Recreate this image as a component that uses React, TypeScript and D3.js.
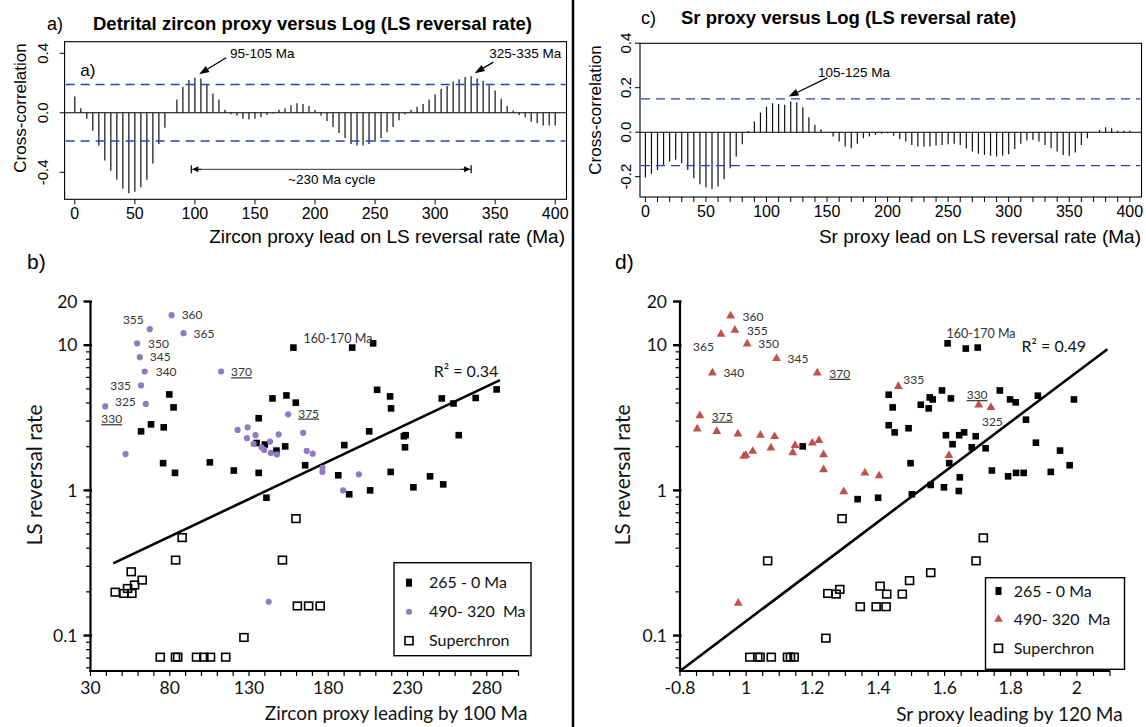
import React, { useRef, useEffect } from 'react';
import * as d3 from 'd3';

const W = 1146;
const H = 727;

// ---------- cross-correlation panels (a, c) ----------
const lags = [0, 5, 10, 15, 20, 25, 30, 35, 40, 45, 50, 55, 60, 65, 70, 75, 80, 85, 90, 95,
  100, 105, 110, 115, 120, 125, 130, 135, 140, 145, 150, 155, 160, 165, 170, 175, 180, 185, 190, 195,
  200, 205, 210, 215, 220, 225, 230, 235, 240, 245, 250, 255, 260, 265, 270, 275, 280, 285, 290, 295,
  300, 305, 310, 315, 320, 325, 330, 335, 340, 345, 350, 355, 360, 365, 370, 375, 380, 385, 390, 395, 400];

const zirconCcf = [0.11, 0.03, -0.04, -0.12, -0.22, -0.32, -0.39, -0.45, -0.51, -0.54, -0.53, -0.5, -0.45, -0.34, -0.21, -0.1,
  0.0, 0.09, 0.175, 0.22, 0.235, 0.23, 0.19, 0.13, 0.09, 0.02, -0.01, -0.02, -0.04, -0.045, -0.04, -0.03, -0.015, -0.005,
  0.02, 0.03, 0.05, 0.065, 0.06, 0.045, 0.02, -0.02, -0.055, -0.095, -0.135, -0.17, -0.21, -0.22, -0.22, -0.21, -0.195,
  -0.17, -0.13, -0.095, -0.05, -0.01, 0.02, 0.04, 0.06, 0.09, 0.125, 0.16, 0.18, 0.21, 0.225, 0.24, 0.245, 0.23, 0.215,
  0.185, 0.15, 0.095, 0.045, 0.015, -0.015, -0.03, -0.06, -0.07, -0.085, -0.085, -0.085];

const srCcf = [-0.204, -0.187, -0.17, -0.147, -0.132, -0.124, -0.139, -0.17, -0.207, -0.234, -0.249, -0.255, -0.244, -0.211,
  -0.162, -0.109, -0.054, 0.005, 0.048, 0.088, 0.115, 0.13, 0.127, 0.123, 0.138, 0.135, 0.112, 0.067, 0.033, 0.013, 0.0,
  -0.019, -0.042, -0.064, -0.072, -0.052, -0.027, -0.019, -0.012, -0.007, -0.005, -0.016, -0.031, -0.042, -0.057, -0.064,
  -0.064, -0.064, -0.06, -0.057, -0.054, -0.052, -0.057, -0.072, -0.087, -0.097, -0.102, -0.106, -0.109, -0.106, -0.099,
  -0.076, -0.052, -0.037, -0.034, -0.042, -0.057, -0.072, -0.087, -0.102, -0.106, -0.091, -0.057, -0.027, 0.0, 0.01, 0.022,
  0.018, 0.007, 0.006, 0.007];

const zirconBand = 0.19;
const srBand = 0.15;
const lagTicks = [0, 50, 100, 150, 200, 250, 300, 350, 400];
const zirconYTicks = [-0.4, 0, 0.4];
const zirconYLabels = ['-0.4', '0.0', '0.4'];
const srYTicks = [-0.2, 0, 0.2, 0.4];
const srYLabels = ['-0.2', '0.0', '0.2', '0.4'];

// ---------- scatter panels (b, d) ----------
const recentZirconX = [79.7, 82.4, 68.2, 61.9, 76.2, 75.8, 83.3, 105.3, 120.4, 136.1, 136.1, 144.8, 153.6, 159.5, 158,
  134.8, 140, 147.3, 152.8, 141, 195.1, 208.3, 210.8, 219, 219.6, 251.6, 259, 273, 286.2, 165.4, 190.1, 205.8, 227.7,
  228.8, 228.4, 262.3, 186.3, 219.4, 244.2, 252.5, 233.7, 206.4, 193.2];
const recentZirconY = [4.58, 3.73, 2.85, 2.55, 2.72, 1.54, 1.32, 1.56, 1.37, 1.32, 3.14, 4.3, 4.51, 4.02, 9.63,
  2.12, 2.07, 1.88, 2.01, 0.89, 9.63, 10.3, 4.93, 4.44, 3.67, 4.3, 3.97, 4.33, 4.96, 1.49, 2.05, 2.55, 2.36,
  2.4, 1.98, 2.4, 1.27, 1.34, 1.25, 1.1, 1.05, 1.0, 0.94];

const oldZirconX = [39.3, 64.9, 61.9, 64.2, 61.1, 59.4, 67.4, 81.2, 88.7, 112.4, 52.1, 122.8, 129.1, 128.7, 134.1,
  132.9, 137.9, 139.6, 143.2, 143.8, 147.6, 148.7, 154.7, 164.1, 166.4, 170.2, 176.3, 176.3, 199.3, 189.4, 142.4];
const oldZirconY = [3.79, 3.94, 5.28, 6.59, 8.27, 10.3, 12.9, 16.1, 12.1, 6.59, 1.78, 2.61, 2.72, 2.29, 2.4,
  2.09, 1.98, 1.9, 2.17, 1.81, 1.77, 2.43, 3.34, 2.49, 1.87, 1.79, 1.43, 1.34, 1.29, 1.0, 0.171];

const superZirconX = [45.6, 51.1, 53.4, 56.1, 55.7, 57.8, 62.6, 83.7, 87.8, 151.1, 159.6, 160.5, 167.6, 174.9, 126.8,
  74.0, 83.6, 85.0, 96.9, 101.5, 105.7, 115.3];
const superZirconY = [0.199, 0.195, 0.211, 0.195, 0.275, 0.223, 0.241, 0.331, 0.473, 0.331, 0.639, 0.16, 0.16, 0.16, 0.097,
  0.071, 0.071, 0.071, 0.071, 0.071, 0.071, 0.071];

const recentSrX = [1.171, 1.337, 1.609, 1.664, 1.7, 1.431, 1.443, 1.431, 1.449, 1.491, 1.528, 1.555, 1.564, 1.552, 1.592,
  1.619, 1.604, 1.644, 1.659, 1.694, 1.624, 1.682, 1.724, 1.614, 1.497, 1.646, 1.643, 1.598, 1.558, 1.501, 1.399,
  1.743, 1.792, 1.816, 1.839, 1.921, 1.978, 1.949, 1.876, 1.846, 1.767, 1.798, 1.815, 1.882, 1.991];
const recentSrY = [2.01, 0.87, 10.3, 9.48, 9.63, 4.56, 3.73, 2.81, 2.51, 2.68, 3.89, 4.37, 4.23, 3.67, 4.88,
  4.3, 2.4, 2.4, 2.51, 2.36, 2.08, 1.98, 1.95, 1.54, 1.54, 1.23, 0.99, 1.05, 1.09, 0.94, 0.89,
  1.37, 1.25, 1.32, 1.32, 1.34, 1.49, 1.88, 2.13, 3.07, 4.88, 4.23, 4.04, 4.49, 4.23];

const oldSrX = [0.953, 0.966, 0.924, 1.003, 1.092, 0.898, 1.215, 0.86, 0.852, 0.911, 0.975, 1.043, 1.086, 1.075, 1.02,
  0.999, 0.993, 1.148, 1.141, 1.2, 1.22, 1.234, 1.234, 1.295, 1.359, 1.46, 1.703, 1.74, 1.613, 1.402, 0.976];
const oldSrY = [15.9, 12.7, 11.9, 10.2, 8.09, 6.45, 6.45, 3.27, 2.65, 2.55, 2.45, 2.4, 2.35, 1.96, 1.86,
  1.75, 1.72, 2.04, 1.82, 2.12, 2.21, 1.76, 1.39, 0.98, 1.32, 5.2, 3.88, 3.73, 1.74, 1.26, 0.167];

const superSrX = [1.29, 1.065, 1.717, 1.695, 1.558, 1.494, 1.405, 1.425, 1.472, 1.345, 1.393, 1.423, 1.247, 1.272, 1.283,
  1.241, 1.011, 1.035, 1.042, 1.076, 1.125, 1.134, 1.145];
const superSrY = [0.639, 0.327, 0.471, 0.327, 0.271, 0.239, 0.219, 0.193, 0.193, 0.158, 0.158, 0.158, 0.195, 0.193, 0.208,
  0.096, 0.071, 0.071, 0.071, 0.071, 0.071, 0.071, 0.071];

// regression lines (end points)
const zirconTrendX = [44.3, 288.3];
const zirconTrendY = [0.314, 5.75];
const srTrendX = [0.8, 2.092];
const srTrendY = [0.057, 9.39];

// ages written next to the 490-320 Ma points (index into the series)
const zirconAgeLabels = [
  { i: 0, text: '330', dx: -4, dy: 12.6, anchor: 'start', u: true },
  { i: 1, text: '325', dx: -10, dy: -2, anchor: 'end' },
  { i: 2, text: '335', dx: -10, dy: 0, anchor: 'end' },
  { i: 3, text: '340', dx: 11, dy: 0.6, anchor: 'start' },
  { i: 4, text: '345', dx: 10, dy: 0, anchor: 'start' },
  { i: 5, text: '350', dx: 11, dy: 0, anchor: 'start' },
  { i: 6, text: '355', dx: -6, dy: -9, anchor: 'end' },
  { i: 7, text: '360', dx: 10, dy: 0, anchor: 'start' },
  { i: 8, text: '365', dx: 10, dy: 1, anchor: 'start' },
  { i: 9, text: '370', dx: 10, dy: 0.6, anchor: 'start', u: true },
  { i: 22, text: '375', dx: 10, dy: -1, anchor: 'start', u: true },
];
const srAgeLabels = [
  { i: 0, text: '360', dx: 12, dy: 0.7, anchor: 'start' },
  { i: 1, text: '355', dx: 12, dy: 0.7, anchor: 'start' },
  { i: 2, text: '365', dx: -7, dy: 12.4, anchor: 'end' },
  { i: 3, text: '350', dx: 11, dy: 0, anchor: 'start' },
  { i: 4, text: '345', dx: 11, dy: 0, anchor: 'start' },
  { i: 5, text: '340', dx: 11, dy: 0, anchor: 'start' },
  { i: 6, text: '370', dx: 12, dy: 0.7, anchor: 'start', u: true },
  { i: 7, text: '375', dx: 12, dy: 0.7, anchor: 'start', u: true },
  { i: 25, text: '335', dx: 5, dy: -7, anchor: 'start' },
  { i: 26, text: '330', dx: -12, dy: -10, anchor: 'start', u: true },
  { i: 27, text: '325', dx: -9, dy: 14, anchor: 'start' },
];

const legendLabels = ['265 - 0 Ma', '490- 320  Ma', 'Superchron'];
const yMajor = [0.1, 1, 10, 20];
const yMajorLabels = ['0.1', '1', '10', '20'];
const yMinor = [0.06, 0.07, 0.08, 0.09, 0.2, 0.3, 0.4, 0.5, 0.6, 0.7, 0.8, 0.9, 2, 3, 4, 5, 6, 7, 8, 9];
const zirconXLabels = [30, 80, 130, 180, 230, 280];
const srXTickValues = [0.8, 1.0, 1.2, 1.4, 1.6, 1.8, 2.0];
const srXLabels = ['-0.8', '1', '1.2', '1.4', '1.6', '1.8', '2'];

const arial = '"Liberation Sans", Arial, sans-serif';
const calibri = 'Lato, "Open Sans", sans-serif';
const purple = '#8f7bc4';
const red = '#c0504d';
const blue = '#2a3fc2';

function arrow(g: any, tail: number[], tip: number[], head = 10, width = 7, sw = 1.3) {
  const a = Math.atan2(tip[1] - tail[1], tip[0] - tail[0]);
  const bx = tip[0] - head * Math.cos(a);
  const by = tip[1] - head * Math.sin(a);
  g.append('line').attr('x1', tail[0]).attr('y1', tail[1]).attr('x2', bx).attr('y2', by)
    .attr('stroke', '#000').attr('stroke-width', sw);
  const px = -Math.sin(a) * width / 2;
  const py = Math.cos(a) * width / 2;
  g.append('polygon')
    .attr('points', `${tip[0]},${tip[1]} ${bx + px},${by + py} ${bx - px},${by - py}`)
    .attr('fill', '#000');
}

function drawCcf(svg: any, p: any) {
  const x = d3.scaleLinear().domain([0, 400]).range(p.xRange);
  const y = d3.scaleLinear().domain(p.yDomain).range(p.yRange);
  const [bx0, by0, bx1, by1] = p.box;
  const g = svg.append('g').attr('font-family', arial);

  g.append('rect').attr('x', bx0).attr('y', by0).attr('width', bx1 - bx0).attr('height', by1 - by0)
    .attr('fill', 'none').attr('stroke', '#000').attr('stroke-width', 1.1);
  g.append('line').attr('x1', bx0).attr('x2', bx1).attr('y1', y(0)).attr('y2', y(0))
    .attr('stroke', '#000').attr('stroke-width', 1.1);

  g.append('g').selectAll('line').data(p.values).join('line')
    .attr('x1', (d: number, i: number) => x(lags[i])).attr('x2', (d: number, i: number) => x(lags[i]))
    .attr('y1', y(0)).attr('y2', (d: number) => y(d))
    .attr('stroke', '#111').attr('stroke-width', 1.2);

  g.append('g').selectAll('line').data([p.band, -p.band]).join('line')
    .attr('x1', bx0 + 1).attr('x2', bx1 - 1).attr('y1', (d: number) => y(d)).attr('y2', (d: number) => y(d))
    .attr('stroke', blue).attr('stroke-width', 1.4).attr('stroke-dasharray', '9 6');

  // x axis ticks + labels
  g.append('g').selectAll('line').data(p.xTicks).join('line')
    .attr('x1', (d: number) => x(d)).attr('x2', (d: number) => x(d)).attr('y1', by1).attr('y2', by1 + 5)
    .attr('stroke', '#000').attr('stroke-width', 1);
  g.append('g').selectAll('text').data(lagTicks).join('text')
    .attr('x', (d: number) => x(d)).attr('y', p.xLabelY).attr('dy', '0.35em')
    .attr('text-anchor', 'middle').attr('font-size', 16).text((d: number) => String(d));

  // y axis ticks + rotated labels
  g.append('g').selectAll('line').data(p.yTicks).join('line')
    .attr('x1', bx0 - 5).attr('x2', bx0).attr('y1', (d: number) => y(d)).attr('y2', (d: number) => y(d))
    .attr('stroke', '#000').attr('stroke-width', 1);
  g.append('g').selectAll('text').data(p.yTicks).join('text')
    .attr('transform', (d: number) => `translate(${p.yLabelX},${y(d)}) rotate(-90)`)
    .attr('dy', '0.35em').attr('text-anchor', 'middle').attr('font-size', 15)
    .text((d: number, i: number) => p.yLabels[i]);

  g.append('text').attr('transform', `translate(${p.yTitle[0]},${p.yTitle[1]}) rotate(-90)`)
    .attr('dy', '0.35em').attr('text-anchor', 'middle').attr('font-size', 17).text('Cross-correlation');
  g.append('text').attr('x', p.xTitle[0]).attr('y', p.xTitle[1]).attr('dy', '0.35em')
    .attr('text-anchor', 'end').attr('font-size', 19).text(p.xTitleText);

  g.append('text').attr('x', p.tag[0]).attr('y', p.tag[1]).attr('dy', '0.35em')
    .attr('font-size', 18).text(p.tagText);
  g.append('text').attr('x', p.title[0]).attr('y', p.title[1]).attr('dy', '0.35em')
    .attr('font-size', 18.5).attr('font-weight', 'bold').text(p.titleText);

  return { g, x, y };
}

function drawScatter(svg: any, p: any) {
  const x = d3.scaleLinear().domain(p.xDomain).range(p.xRange);
  const y = d3.scaleLog().domain([0.057, 20]).range([671, 301.5]);
  const g = svg.append('g').attr('font-family', calibri);
  const [x0, x1] = p.xRange;
  const yb = y(0.057);

  // axes
  g.append('line').attr('x1', x0).attr('x2', x0).attr('y1', y(20)).attr('y2', yb + 1)
    .attr('stroke', '#000').attr('stroke-width', 2.2);
  g.append('line').attr('x1', x0 - 1).attr('x2', x1).attr('y1', yb).attr('y2', yb)
    .attr('stroke', '#000').attr('stroke-width', 2.2);
  g.append('g').selectAll('line').data(yMinor).join('line')
    .attr('x1', x0 - 4.5).attr('x2', x0).attr('y1', (d: number) => y(d)).attr('y2', (d: number) => y(d))
    .attr('stroke', '#000').attr('stroke-width', 1.2);
  g.append('g').selectAll('line').data(yMajor).join('line')
    .attr('x1', x0 - 7).attr('x2', x0 + 1.5).attr('y1', (d: number) => y(d)).attr('y2', (d: number) => y(d))
    .attr('stroke', '#000').attr('stroke-width', 2.4);
  g.append('g').selectAll('text').data(yMajor).join('text')
    .attr('x', x0 - 13).attr('y', (d: number) => y(d)).attr('dy', '0.35em')
    .attr('text-anchor', 'end').attr('font-size', 17.5).attr('fill', '#111')
    .text((d: number, i: number) => yMajorLabels[i]);
  g.append('g').selectAll('line').data(p.xTicks).join('line')
    .attr('x1', (d: number) => x(d)).attr('x2', (d: number) => x(d)).attr('y1', yb).attr('y2', yb + 5)
    .attr('stroke', '#000').attr('stroke-width', 1.2);
  g.append('g').selectAll('text').data(p.xLabelValues).join('text')
    .attr('x', (d: number) => x(d)).attr('y', 688.3).attr('dy', '0.35em')
    .attr('text-anchor', 'middle').attr('font-size', 17.5).attr('fill', '#111')
    .text((d: number, i: number) => p.xLabels[i]);

  g.append('text').attr('transform', `translate(${p.yTitleX},475) rotate(-90)`).attr('dy', '0.35em')
    .attr('text-anchor', 'middle').attr('font-size', 21).attr('fill', '#111').text('LS reversal rate');
  g.append('text').attr('x', p.xTitle[0]).attr('y', p.xTitle[1]).attr('dy', '0.35em')
    .attr('text-anchor', 'end').attr('font-size', 19).attr('fill', '#111').text(p.xTitleText);
  svg.append('text').attr('x', p.tag[0]).attr('y', p.tag[1]).attr('dy', '0.35em')
    .attr('font-family', arial).attr('font-size', 21).text(p.tagText);

  // superchron (open squares)
  g.append('g').selectAll('rect').data(p.superX).join('rect')
    .attr('x', (d: number) => x(d) - 4).attr('y', (d: number, i: number) => y(p.superY[i]) - 3.8)
    .attr('width', 8).attr('height', 7.6).attr('fill', 'none').attr('stroke', '#000').attr('stroke-width', 1.6);

  // regression line
  g.append('line')
    .attr('x1', x(p.trendX[0])).attr('y1', y(p.trendY[0])).attr('x2', x(p.trendX[1])).attr('y2', y(p.trendY[1]))
    .attr('stroke', '#000').attr('stroke-width', 2.6);

  // 265-0 Ma
  g.append('g').selectAll('rect').data(p.recentX).join('rect')
    .attr('x', (d: number) => x(d) - 3.3).attr('y', (d: number, i: number) => y(p.recentY[i]) - 3.3)
    .attr('width', 6.6).attr('height', 6.6).attr('fill', '#000');

  // 490-320 Ma
  const oldG = g.append('g');
  if (p.oldShape === 'circle') {
    oldG.selectAll('circle').data(p.oldX).join('circle')
      .attr('cx', (d: number) => x(d)).attr('cy', (d: number, i: number) => y(p.oldY[i]))
      .attr('r', 3.1).attr('fill', purple);
  } else {
    const tri = d3.symbol().type(d3.symbolTriangle).size(34)();
    oldG.selectAll('path').data(p.oldX).join('path')
      .attr('d', tri)
      .attr('transform', (d: number, i: number) => `translate(${x(d)},${y(p.oldY[i])})`)
      .attr('fill', red);
  }
  g.append('g').selectAll('text').data(p.ageLabels).join('text')
    .attr('x', (d: any) => x(p.oldX[d.i]) + d.dx).attr('y', (d: any) => y(p.oldY[d.i]) + d.dy)
    .attr('dy', '0.35em').attr('text-anchor', (d: any) => d.anchor)
    .attr('font-size', 12).attr('fill', '#333')
    .style('text-decoration', (d: any) => (d.u ? 'underline' : 'none'))
    .text((d: any) => d.text);

  // annotations
  const hi = p.peakIndex;
  g.append('text').attr('x', x(p.recentX[hi]) + p.peakDx).attr('y', y(p.recentY[hi]) + p.peakDy)
    .attr('dy', '0.35em').attr('font-size', 12.5).attr('fill', '#333').text('160-170 Ma');
  g.append('text').attr('x', x(p.trendX[1]) + p.r2Dx).attr('y', y(p.trendY[1]) + p.r2Dy)
    .attr('dy', '0.35em').attr('text-anchor', 'end').attr('font-size', 16).attr('fill', '#111').text(p.r2);

  // legend
  const [lx0, ly0, lx1, ly1] = p.legendBox;
  const lg = g.append('g');
  lg.append('rect').attr('x', lx0).attr('y', ly0).attr('width', lx1 - lx0).attr('height', ly1 - ly0)
    .attr('fill', '#fff').attr('stroke', '#000').attr('stroke-width', 1.4);
  const rows = p.legendRows;
  const sx = lx0 + p.legendSymX;
  lg.append('rect').attr('x', sx - 3).attr('y', ly0 + rows[0] - 4).attr('width', 6).attr('height', 8).attr('fill', '#000');
  if (p.oldShape === 'circle') {
    lg.append('circle').attr('cx', sx).attr('cy', ly0 + rows[1]).attr('r', 3).attr('fill', purple);
  } else {
    lg.append('path').attr('d', d3.symbol().type(d3.symbolTriangle).size(34)())
      .attr('transform', `translate(${sx},${ly0 + rows[1]})`).attr('fill', red);
  }
  lg.append('rect').attr('x', sx - 4).attr('y', ly0 + rows[2] - 4).attr('width', 8).attr('height', 8)
    .attr('fill', 'none').attr('stroke', '#000').attr('stroke-width', 1.6);
  lg.selectAll('text').data(legendLabels).join('text')
    .attr('x', lx0 + p.legendTextX).attr('y', (d: string, i: number) => ly0 + rows[i]).attr('dy', '0.35em')
    .attr('font-size', 16).attr('fill', '#111').style('white-space', 'pre').text((d: string) => d);

  return { g, x, y };
}

export default function App() {
  const svgRef = useRef<SVGSVGElement>(null);

  useEffect(() => {
    const svg = d3.select(svgRef.current);
    svg.selectAll('*').remove();
    svg.append('rect').attr('width', W).attr('height', H).attr('fill', '#fff');

    // a) detrital zircon
    const a = drawCcf(svg, {
      values: zirconCcf, band: zirconBand,
      xRange: [74.8, 555.2], yDomain: [-0.4, 0.4], yRange: [172.3, 53.3],
      box: [64.6, 41.7, 566.5, 199.3], xTicks: lagTicks, xLabelY: 213.3,
      yTicks: zirconYTicks, yLabels: zirconYLabels, yLabelX: 43,
      yTitle: [20, 108], xTitle: [565, 236], xTitleText: 'Zircon proxy lead on LS reversal rate (Ma)',
      tag: [47, 24], tagText: 'a)', title: [93, 24],
      titleText: 'Detrital zircon proxy versus Log (LS reversal rate)',
    });
    a.g.append('text').attr('x', a.x(4.5)).attr('y', a.y(0.287)).attr('dy', '0.35em')
      .attr('font-size', 17).text('a)');
    arrow(a.g, [a.x(126), a.y(0.37)], [a.x(103.5), a.y(0.26)]);
    a.g.append('text').attr('x', a.x(129.3)).attr('y', a.y(0.4)).attr('dy', '0.35em')
      .attr('font-size', 13.5).text('95-105 Ma');
    arrow(a.g, [a.x(348.5), a.y(0.341)], [a.x(333), a.y(0.266)]);
    a.g.append('text').attr('x', a.x(345)).attr('y', a.y(0.4)).attr('dy', '0.35em')
      .attr('font-size', 13.5).text('325-335 Ma');
    // ~230 Ma cycle bracket
    const cy = a.y(-0.38);
    const c0 = a.x(97), c1 = a.x(330);
    a.g.append('line').attr('x1', c0).attr('x2', c1).attr('y1', cy).attr('y2', cy).attr('stroke', '#333').attr('stroke-width', 1);
    [c0, c1].forEach((cx) => a.g.append('line').attr('x1', cx).attr('x2', cx).attr('y1', cy - 4).attr('y2', cy + 4)
      .attr('stroke', '#000').attr('stroke-width', 1.2));
    arrow(a.g, [c0 + 10, cy], [c0 + 1, cy], 6, 6, 1);
    arrow(a.g, [c1 - 10, cy], [c1 - 1, cy], 6, 6, 1);
    a.g.append('text').attr('x', a.x(214)).attr('y', a.y(-0.45)).attr('dy', '0.35em')
      .attr('text-anchor', 'middle').attr('font-size', 13.5).text('~230 Ma cycle');

    // c) Sr proxy
    const c = drawCcf(svg, {
      values: srCcf, band: srBand,
      xRange: [645.4, 1129.8], yDomain: [-0.2, 0.2], yRange: [176.7, 87.7],
      box: [640, 43.3, 1141.5, 197], xTicks: d3.range(0, 401, 10), xLabelY: 211.7,
      yTicks: srYTicks, yLabels: srYLabels, yLabelX: 626,
      yTitle: [595, 110], xTitle: [1141, 236], xTitleText: 'Sr proxy lead on LS reversal rate (Ma)',
      tag: [641, 18], tagText: 'c)', title: [681, 18],
      titleText: 'Sr proxy versus Log (LS reversal rate)',
    });
    arrow(c.g, [c.x(150), c.y(0.244)], [c.x(118.2), c.y(0.16)]);
    c.g.append('text').attr('x', c.x(142.5)).attr('y', c.y(0.271)).attr('dy', '0.35em')
      .attr('font-size', 13.5).text('105-125 Ma');

    // b) zircon scatter
    drawScatter(svg, {
      xDomain: [30, 300], xRange: [90.5, 518.5], xTicks: d3.range(30, 301, 10),
      xLabelValues: zirconXLabels, xLabels: zirconXLabels.map(String),
      recentX: recentZirconX, recentY: recentZirconY,
      oldX: oldZirconX, oldY: oldZirconY, oldShape: 'circle', ageLabels: zirconAgeLabels,
      superX: superZirconX, superY: superZirconY,
      trendX: zirconTrendX, trendY: zirconTrendY, r2: 'R² = 0.34', r2Dx: -1.7, r2Dy: -8.6,
      peakIndex: 14, peakDx: 10, peakDy: -9.4,
      yTitleX: 35, xTitle: [527.4, 713.3], xTitleText: 'Zircon proxy leading by 100 Ma',
      tag: [27, 261.7], tagText: 'b)',
      legendBox: [394, 562.7, 531, 655.7], legendRows: [20, 49, 78], legendSymX: 15, legendTextX: 35,
    });

    // d) Sr scatter
    drawScatter(svg, {
      xDomain: [0.8, 2.1], xRange: [680, 1110], xTicks: d3.range(0.8, 2.101, 0.05),
      xLabelValues: srXTickValues, xLabels: srXLabels,
      recentX: recentSrX, recentY: recentSrY,
      oldX: oldSrX, oldY: oldSrY, oldShape: 'triangle', ageLabels: srAgeLabels,
      superX: superSrX, superY: superSrY,
      trendX: srTrendX, trendY: srTrendY, r2: 'R² = 0.49', r2Dx: -21.3, r2Dy: -2.6,
      peakIndex: 2, peakDx: -1, peakDy: -10,
      yTitleX: 623, xTitle: [1122.7, 714.3], xTitleText: 'Sr proxy leading by 120 Ma',
      tag: [615, 261.7], tagText: 'd)',
      legendBox: [985.5, 577.7, 1124.5, 669.3], legendRows: [13.3, 41.6, 70.6], legendSymX: 13, legendTextX: 28.3,
    });

    // divider between the two columns
    svg.append('line').attr('x1', 573).attr('x2', 573).attr('y1', 0).attr('y2', H)
      .attr('stroke', '#000').attr('stroke-width', 2.5);
  }, []);

  return (
    <svg ref={svgRef} width={W} height={H}
      style={{ position: 'absolute', left: 0, top: 0, display: 'block' }} />
  );
}
